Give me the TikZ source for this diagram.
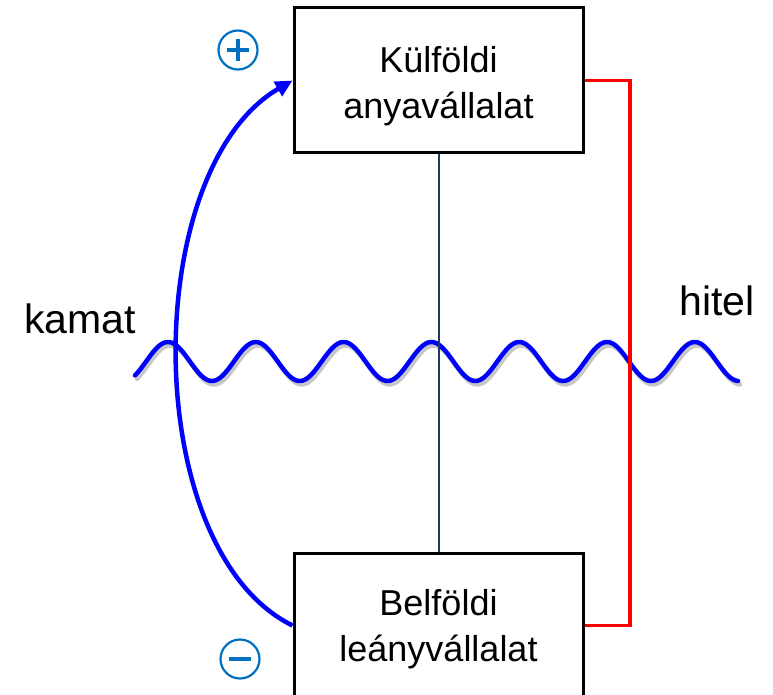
\documentclass[tikz,border=0pt]{standalone}
\usepackage{fontspec}
\setmainfont{Liberation Sans}
\usetikzlibrary{arrows.meta}
\definecolor{pmblue}{RGB}{0,112,192}
\definecolor{navyline}{RGB}{32,56,100}
\begin{document}
\begin{tikzpicture}[x=1pt,y=-1pt,
  box/.style={draw=black,line width=3pt,minimum width=289pt,minimum height=145pt,inner sep=0pt},
  boxtext/.style={align=center,font=\fontsize{36}{45.5}\selectfont,inner sep=0pt},
  bigtext/.style={font=\fontsize{41}{49}\selectfont,inner sep=0pt},
  sign/.style={draw=pmblue,line width=2.2pt,circle,minimum size=39pt,inner sep=0pt},
  signbar/.style={pmblue,line width=3.2pt},
  wave/.style={line width=4.5pt,line cap=round}]
\clip (0,0) rectangle (773,695);
\fill[white] (0,0) rectangle (773,695);
% wave with shadow
\draw[wave,black,opacity=0.22,shift={(2,3.5)}] plot[domain=135:738,samples=300] (\x,{361.5-19.5*cos((\x-168)/87.8*360)});
\draw[wave,blue] plot[domain=135:738,samples=300] (\x,{361.5-19.5*cos((\x-168)/87.8*360)});
% boxes
\node[box] (parent) at (438.5,80.5) {};
\node[box] (child) at (438.5,625.5) {};
\node[boxtext] (ptext) at (438.5,86.4) {Külföldi\\anyavállalat};
\node[boxtext] (ctext) at (438.5,629.4) {Belföldi\\leányvállalat};
% connectors
\draw[navyline,line width=2pt] (parent.south) -- (child.north);
\draw[red,line width=3.5pt] (parent.east) -- ++(45.5,0) |- (child.east);
\draw[blue,line width=4.5pt,-{Triangle[length=17pt,width=16pt]}] (child.west) .. controls (139,550) and (139,170) .. (parent.west);
% labels
\node[bigtext,anchor=base west] (kamat) at (24,333) {kamat};
\node[bigtext,anchor=base west] (hitel) at (679,315) {hitel};
% signs
\node[sign] (plus) at (238,50) {};
\draw[signbar] ([xshift=-11pt]plus.center) -- ([xshift=11pt]plus.center);
\draw[signbar] ([yshift=-11pt]plus.center) -- ([yshift=11pt]plus.center);
\node[sign] (minus) at (240,659) {};
\draw[signbar] ([xshift=-11pt]minus.center) -- ([xshift=11pt]minus.center);
\end{tikzpicture}
\end{document}
